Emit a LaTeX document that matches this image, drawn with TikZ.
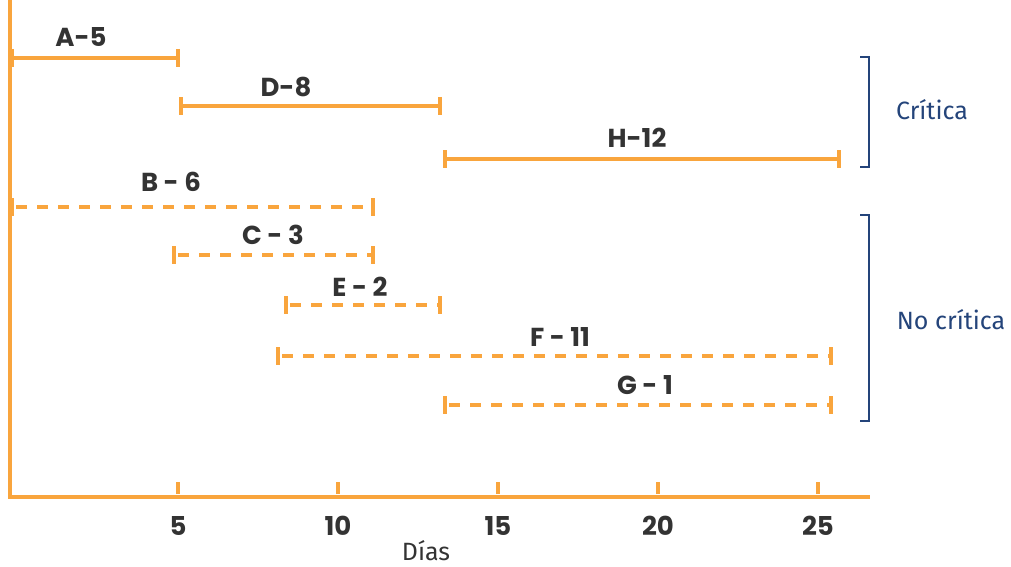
\documentclass[tikz,border=0pt]{standalone}
\usepackage{fontspec}
\setmainfont{Fira Sans}
\newfontfamily\labfont{Poppins}
\definecolor{orng}{HTML}{F9A53D}
\definecolor{navy}{HTML}{24447A}
\definecolor{dark}{HTML}{333333}
\begin{document}
\begin{tikzpicture}[x=1pt,y=-1pt,
  bar/.style={draw=orng, line width=3.2pt},
  dbar/.style={bar, dash pattern=on 11pt off 10pt, dash phase=-4pt},
  endtick/.style={draw=orng, line width=3.2pt},
  axisline/.style={draw=orng, line width=3.2pt},
  lab/.style={font=\labfont\bfseries\fontsize{26}{26}\selectfont, text=dark, inner sep=0pt},
  ticklab/.style={lab},
  brace/.style={draw=navy, line width=2.8pt},
  grp/.style={font=\fontsize{25}{25}\selectfont, text=navy, inner sep=0pt},
  xlab/.style={font=\fontsize{25}{25}\selectfont, text=dark, inner sep=0pt}]
\useasboundingbox (0,0) rectangle (1011,567);
% axes
\coordinate (o) at (10,497);
\coordinate (ytop) at (10,0);
\coordinate (xend) at (870,497);
\draw[axisline] (ytop) -- (o) -- (xend);
\foreach \v/\x in {5/178,10/338,15/498,20/658,25/818}{
  \coordinate (t\v) at (\x,494);
  \draw[endtick] (t\v) -- ++(0,-12);
  \node[ticklab] (tl\v) at (\x,526) {\v};
}
\node[xlab] (dias) at (426,551) {Días};
% bars
\foreach \n/\a/\b/\y/\t/\lx/\ly/\s in {
  A/12/178/58/A-5/81/37/bar,
  D/181/440/106/D-8/286/87/bar,
  H/445/839/159/H-12/637/138/bar,
  B/12/373/207/B - 6/171/182/dbar,
  C/174/373/255/C - 3/273/235/dbar,
  E/286/440/305/E - 2/360/287/dbar,
  F/278/831/356/F - 11/560/337/dbar,
  G/445/831/405/G - 1/645/385/dbar}{
  \coordinate (\n-s) at (\a,\y);
  \coordinate (\n-e) at (\b,\y);
  \draw[\s] (\n-s) -- (\n-e);
  \draw[endtick] (\n-s) ++(0,-9) -- ++(0,18);
  \draw[endtick] (\n-e) ++(0,-9) -- ++(0,18);
  \node[lab] (\n-lab) at (\lx,\ly) {\t};
}
% brackets
\coordinate (c1) at (860,57);
\coordinate (c2) at (869,57);
\coordinate (c3) at (869,167);
\coordinate (c4) at (860,167);
\draw[brace] (c1) -- (c2) -- (c3) -- (c4);
\node[grp] (crit) at (932,110) {Crítica};
\coordinate (n1) at (860,215);
\coordinate (n2) at (869,215);
\coordinate (n3) at (869,421);
\coordinate (n4) at (860,421);
\draw[brace] (n1) -- (n2) -- (n3) -- (n4);
\node[grp] (ncrit) at (951,320) {No crítica};
\end{tikzpicture}
\end{document}
